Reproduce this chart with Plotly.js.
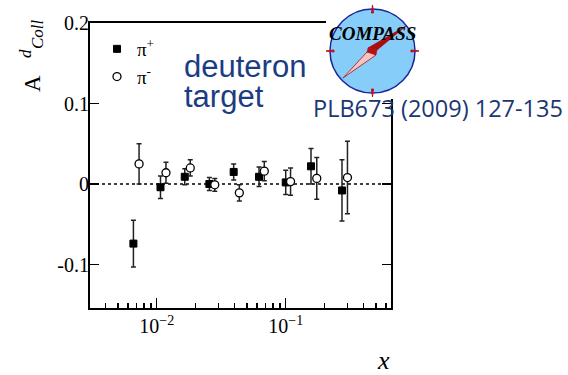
<!DOCTYPE html>
<html>
<head>
<meta charset="utf-8">
<script src="https://cdn.plot.ly/plotly-3.0.1.min.js"></script>
<style>html,body{margin:0;padding:0;background:#fff;}#chart{width:568px;height:375px;}</style>
</head>
<body>
<div id="chart"></div>
<script>
// ---- data ----
var xPlus  = [0.0066, 0.0107, 0.0165, 0.0256, 0.0395, 0.0621, 0.100, 0.157, 0.273];
var yPlus  = [-0.074, -0.004, 0.009, 0.000, 0.015, 0.009, 0.002, 0.022, -0.008];
var ePlus  = [0.029, 0.014, 0.010, 0.008, 0.010, 0.012, 0.015, 0.022, 0.038];

var xMinus = [0.0073, 0.0118, 0.0182, 0.0282, 0.0437, 0.0682, 0.109, 0.174, 0.301];
var yMinus = [0.025, 0.014, 0.020, -0.001, -0.011, 0.016, 0.003, 0.007, 0.008];
var eMinus = [0.025, 0.013, 0.010, 0.008, 0.010, 0.012, 0.017, 0.026, 0.045];

var seriesNames = ['\u03C0<sup>+</sup>', '\u03C0<sup>-</sup>'];
var yTickVals = [-0.1, 0, 0.1, 0.2];
var yTickText = ['-0.1', '0', '0.1', '0.2'];

// ---- layout helpers (pixel -> paper) ----
var L = 90, T = 23, W = 301, H = 285;
function px(x) { return (x - L) / W; }
function py(y) { return 1 - (y - T) / H; }
function pathOf(pts) {
  return 'M' + pts.map(function (p) { return px(p[0]).toFixed(4) + ',' + py(p[1]).toFixed(4); }).join(' L') + ' Z';
}
function note(x, y, text, font, extra) {
  var a = { xref: 'paper', yref: 'paper', x: px(x), y: py(y), text: text, showarrow: false,
            xanchor: 'center', yanchor: 'middle', font: font };
  if (extra) for (var k in extra) a[k] = extra[k];
  return a;
}

var serif = 'Liberation Serif, Times New Roman, serif';
var sans = 'Liberation Sans, Arial, sans-serif';
var navy = '#1b3c84';

var traces = [
  {
    type: 'scatter', mode: 'markers', name: seriesNames[0],
    x: xPlus, y: yPlus,
    error_y: { type: 'data', array: ePlus, visible: true, color: '#222', thickness: 1.5, width: 2.5 },
    marker: { symbol: 'square', size: 7, color: '#000', line: { color: '#000', width: 1 } }
  },
  {
    type: 'scatter', mode: 'markers', name: seriesNames[1],
    x: xMinus, y: yMinus,
    error_y: { type: 'data', array: eMinus, visible: true, color: '#222', thickness: 1.5, width: 2.5 },
    marker: { symbol: 'circle', size: 8, color: '#fff', line: { color: '#000', width: 1.3 } }
  }
];

var red = '#c0101a';
function mark(pts) {
  return { type: 'path', xref: 'paper', yref: 'paper', layer: 'above', path: pathOf(pts),
           fillcolor: red, line: { color: red, width: 1 } };
}
// logo decoration
var logoShapes = [
  { type: 'rect', xref: 'paper', yref: 'paper', layer: 'above',
    x0: px(326), x1: px(440), y0: py(0), y1: py(99),
    fillcolor: '#fff', line: { width: 0 } },
  { type: 'circle', xref: 'paper', yref: 'paper', layer: 'above',
    x0: px(330), x1: px(415), y0: py(93), y1: py(9),
    fillcolor: '#87cdfa', line: { color: '#1c2496', width: 1.5 } },
  mark([[372.5, 5], [371.5, 13], [373.5, 13]]),
  mark([[372.5, 97], [371.5, 89], [373.5, 89]]),
  mark([[326, 51], [334, 50], [334, 52]]),
  mark([[419, 51], [411, 50], [411, 52]]),
  // needle
  { type: 'path', xref: 'paper', yref: 'paper', layer: 'above',
    path: pathOf([[343, 78], [367, 52], [372, 53], [376, 55]]),
    fillcolor: '#f2c4c4', line: { color: '#b01010', width: 0.8 } },
  { type: 'path', xref: 'paper', yref: 'paper', layer: 'above',
    path: pathOf([[406, 26], [377, 50], [372, 49], [368, 48]]),
    fillcolor: '#a80d12', line: { color: '#a80d12', width: 0.8 } },
  { type: 'path', xref: 'paper', yref: 'paper', layer: 'above',
    path: pathOf([[368, 48], [377, 50], [376, 55], [367, 52]]),
    fillcolor: '#b81018', line: { color: '#b81018', width: 0.6 } }
];

var zeroLine = { type: 'line', xref: 'paper', yref: 'y', layer: 'below',
  x0: 0, x1: 1, y0: 0, y1: 0, line: { color: '#000', width: 1.5, dash: 'dot' } };

var annotations = [
  note(32, 83, 'A', { family: serif, size: 23, color: '#000' }, { textangle: -90 }),
  note(25, 54, '<i>d</i>', { family: serif, size: 17, color: '#000' }, { textangle: -90 }),
  note(37, 34, '<i>Coll</i>', { family: serif, size: 17, color: '#000' }, { textangle: -90 }),
  note(383, 360, '<i>x</i>', { family: serif, size: 26, color: '#000' }),
  note(182, 66, 'deuteron', { family: sans, size: 31, color: navy }, { xanchor: 'left' }),
  note(182, 97, 'target', { family: sans, size: 31, color: navy }, { xanchor: 'left' }),
  note(311, 108, 'PLB673 (2009) 127-135', { family: 'Open Sans, sans-serif', size: 23.5, color: '#1a3673' }, { xanchor: 'left' }),
  note(372, 33, '<b><i>COMPASS</i></b>', { family: serif, size: 19, color: '#000' })
];

var layout = {
  width: 568, height: 375,
  margin: { l: L, r: 568 - L - W, t: T, b: 375 - T - H },
  paper_bgcolor: '#fff', plot_bgcolor: '#fff',
  font: { family: serif, color: '#000' },
  showlegend: true,
  legend: { x: px(97), y: py(30), xanchor: 'left', yanchor: 'top', bgcolor: 'rgba(0,0,0,0)',
    font: { family: serif, size: 19, color: '#000' }, borderwidth: 0, tracegroupgap: 0 },
  xaxis: {
    type: 'log', range: [-2.517, -0.184], dtick: 1, exponentformat: 'power',
    showline: true, linecolor: '#000', linewidth: 2, mirror: true,
    ticks: 'inside', ticklen: 10, tickwidth: 1.5, tickcolor: '#000',
    minor: { ticks: 'inside', ticklen: 5, tickwidth: 1.5, tickcolor: '#000', dtick: 'D1', showgrid: false },
    showgrid: false, zeroline: false,
    tickfont: { family: serif, size: 16, color: '#000' }
  },
  yaxis: {
    range: [-0.154, 0.2], tickmode: 'array', tickvals: yTickVals, ticktext: yTickText,
    showline: true, linecolor: '#000', linewidth: 2, mirror: 'ticks',
    ticks: 'inside', ticklen: 9, tickwidth: 1.5, tickcolor: '#000',
    ticklabelstandoff: -5,
    showgrid: false, zeroline: false,
    tickfont: { family: serif, size: 20, color: '#000' }
  },
  shapes: [zeroLine].concat(logoShapes),
  annotations: annotations
};

Plotly.newPlot('chart', traces, layout, { staticPlot: true, displayModeBar: false });
</script>
</body>
</html>
